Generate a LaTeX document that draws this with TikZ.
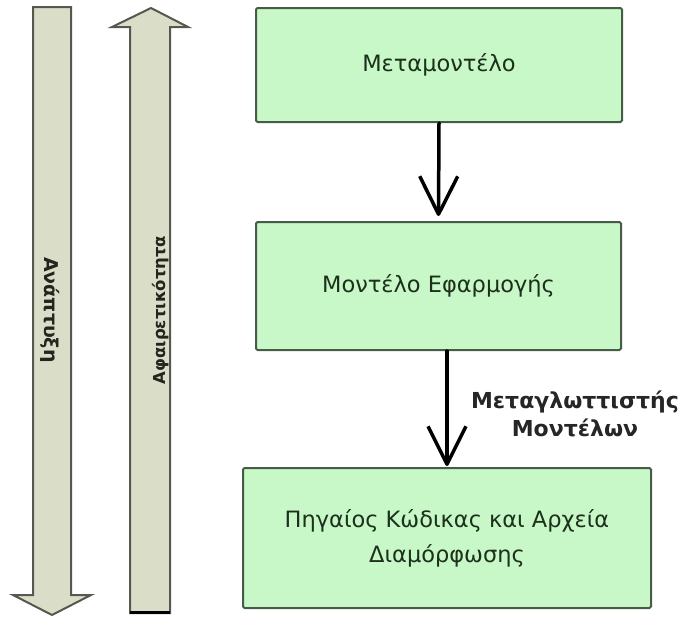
\documentclass[tikz,border=0pt]{standalone}
\usepackage{fontspec}
\setmainfont{DejaVu Sans}
\newfontfamily\boldlabel{DejaVu Sans}
\usetikzlibrary{arrows.meta}

\definecolor{boxfill}{RGB}{200,248,200}
\definecolor{boxedge}{RGB}{70,92,70}
\definecolor{boxtext}{RGB}{28,48,28}
\definecolor{barfill}{RGB}{218,222,200}
\definecolor{baredge}{RGB}{85,88,78}
\definecolor{bartext}{RGB}{35,38,30}

\begin{document}
\begin{tikzpicture}[x=1pt,y=-1pt,
  stagebox/.style={draw=boxedge, fill=boxfill, line width=2pt,
    rounded corners=1.5pt, text=boxtext, align=center, inner sep=0pt,
    font=\fontsize{22.5}{35}\selectfont},
  flow/.style={line width=3.5pt, line cap=round,
    -{Straight Barb[length=38pt 0 0,width=38pt 0 0,line join=round]}},
  steplabel/.style={align=center, inner sep=0pt, text=black!85,
    font=\boldlabel\bfseries\fontsize{22}{28}\selectfont},
  barshape/.style={draw=baredge, fill=barfill, line width=2pt, line join=miter},
  bartitle/.style={inner sep=0pt, text=bartext, anchor=base,
    font=\boldlabel\bfseries}
]
\useasboundingbox (0,0) rectangle (680,616);

% downward bar: development
\path[barshape] (33,7) -- (71,7) -- (71,595) -- (91,595) -- (52,615)
  -- (13,595) -- (33,595) -- cycle;
\node[bartitle, rotate=-90, font=\boldlabel\bfseries\fontsize{19}{22}\selectfont]
  (dev) at (44,310) {Ανάπτυξη};

% upward bar: abstraction
\path[barshape] (130,613) -- (130,27) -- (112,27) -- (151,8) -- (188,27)
  -- (170,27) -- (170,613) -- cycle;
\draw[line width=3pt, black] (130,612.5) -- (170,612.5);
\node[bartitle, rotate=90, font=\boldlabel\bfseries\fontsize{16.5}{19}\selectfont]
  (abs) at (165,310) {Αφαιρετικότητα};

% stages
\node[stagebox, minimum width=366pt, minimum height=114pt] (meta) at (439,65)
  {Μεταμοντέλο};
\node[stagebox, minimum width=365pt, minimum height=128pt] (app) at (438.5,286)
  {Μοντέλο Εφαρμογής};
\node[stagebox, minimum width=408pt, minimum height=140pt] (code) at (447,538)
  {Πηγαίος Κώδικας και Αρχεία\\Διαμόρφωσης};

% transformations
\draw[flow] (meta.south) -- ([yshift=5pt]app.north);
\draw[flow] (app.south -| code.north) -- ([yshift=1pt]code.north);
\node[steplabel] (compiler) at (575,414) {Μεταγλωττιστής\\Μοντέλων};
\end{tikzpicture}
\end{document}
